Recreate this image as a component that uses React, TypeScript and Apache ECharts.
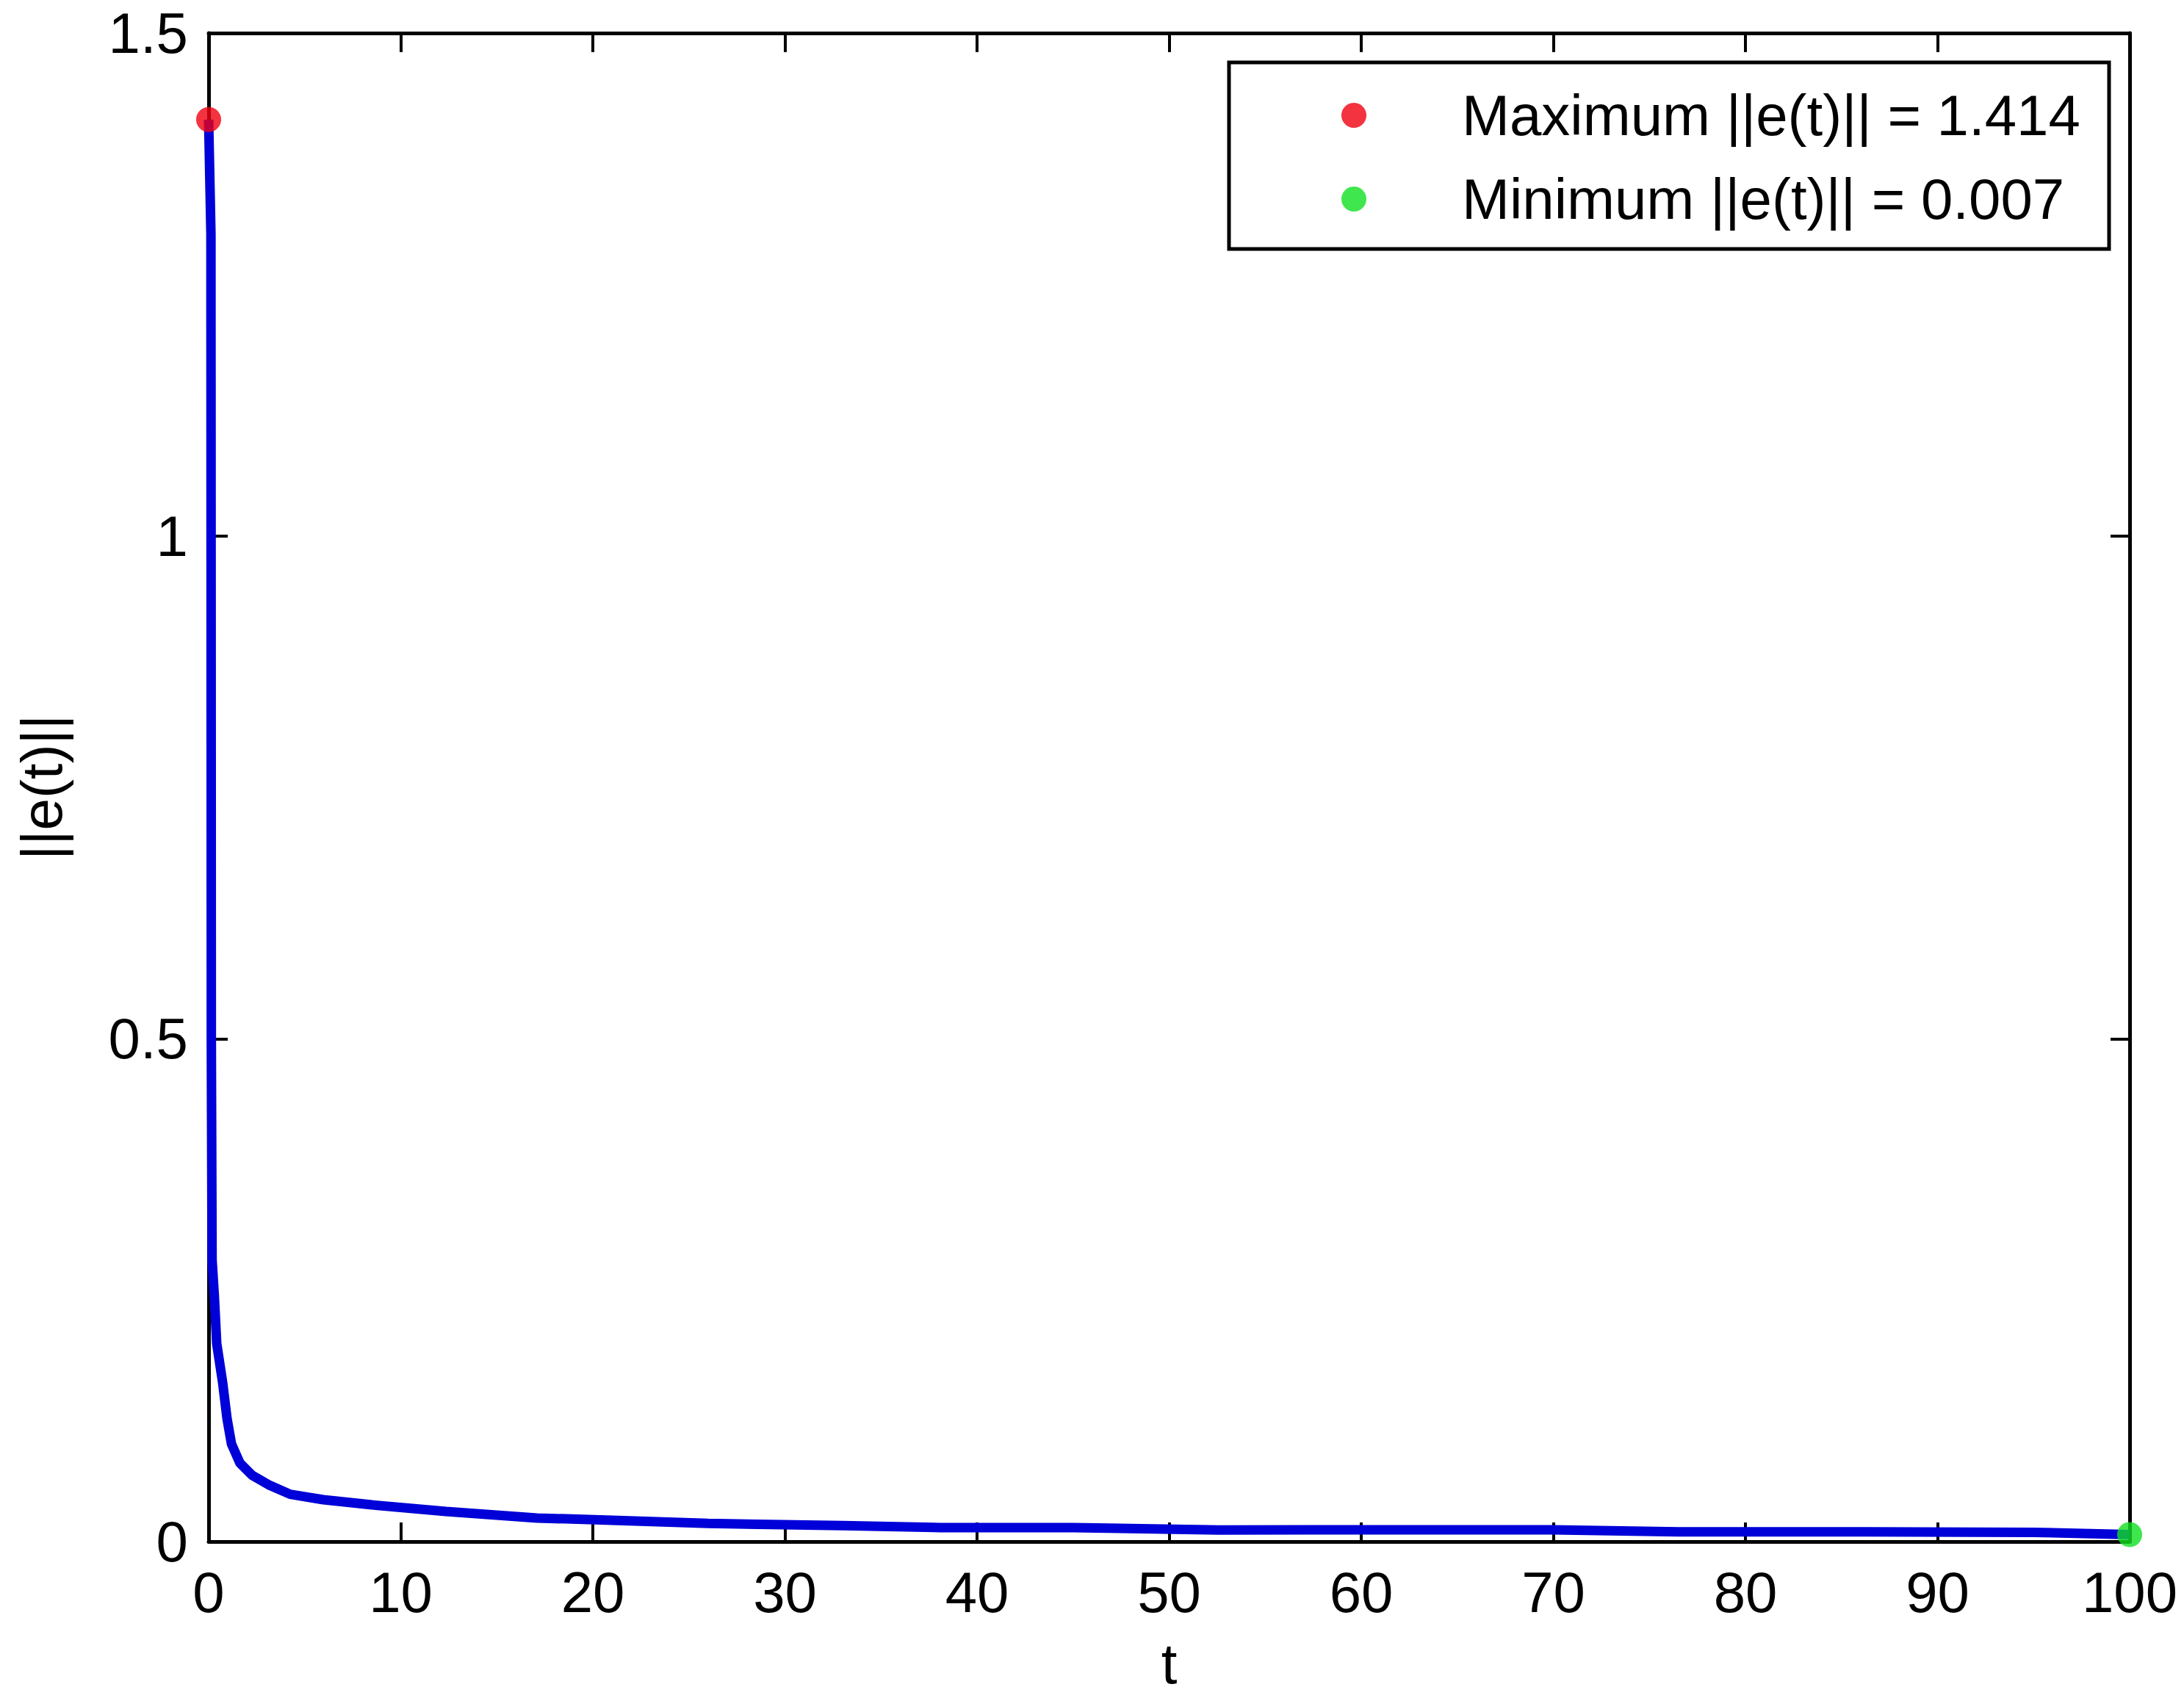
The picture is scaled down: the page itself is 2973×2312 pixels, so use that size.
import React, { useEffect, useRef } from "react";
import * as echarts from "echarts";

// time samples and error norm values
const tValues = [0, 0.12, 0.14, 0.18, 0.3, 0.42, 0.73, 0.96, 1.19, 1.63, 2.26, 3.17, 4.25, 5.97, 8.5, 12.35, 17.1, 21, 26, 33, 38.1, 45, 52.6, 60, 70, 76.5, 85, 95, 100];
const eValues = [1.414, 1.3, 0.5, 0.28, 0.243, 0.197, 0.158, 0.122, 0.097, 0.078, 0.066, 0.056, 0.047, 0.0416, 0.0365, 0.030, 0.0234, 0.0212, 0.018, 0.0158, 0.0139, 0.0139, 0.0115, 0.0117, 0.0117, 0.0097, 0.0097, 0.0092, 0.007];

const maxLabel = "Maximum ||e(t)|| = 1.414";
const minLabel = "Minimum ||e(t)|| = 0.007";
const maxPoint = [0, 1.414];
const minPoint = [100, 0.007];

const xAxisTitle = "t";
const yAxisTitle = "||e(t)||";

const FONT = "'Liberation Sans', Arial, Helvetica, sans-serif";
const FS = 78;

export default function App() {
  const ref = useRef<HTMLDivElement>(null);
  useEffect(() => {
    if (!ref.current) return;
    const chart = echarts.init(ref.current, undefined, { renderer: "svg" });
    const lineData = tValues.map((t, i) => [t, eValues[i]]);
    const axisLine = { show: true, onZero: false, lineStyle: { color: "#000", width: 5 } };
    const tick = { show: true, inside: true, length: 26, lineStyle: { color: "#000", width: 4 } };
    chart.setOption({
      animation: false,
      backgroundColor: "#fff",
      textStyle: { fontFamily: FONT },
      grid: { left: 284, right: 74, top: 45, bottom: 213, containLabel: false },
      xAxis: [
        {
          type: "value",
          min: 0,
          max: 100,
          interval: 10,
          position: "bottom",
          axisLine,
          axisTick: tick,
          splitLine: { show: false },
          axisLabel: { color: "#000", fontSize: FS, fontFamily: FONT, margin: 30 },
          name: xAxisTitle,
          nameLocation: "middle",
          nameGap: 127,
          nameTextStyle: { color: "#000", fontSize: FS, fontFamily: FONT },
        },
        {
          type: "value",
          min: 0,
          max: 100,
          interval: 10,
          position: "top",
          axisLine,
          axisTick: tick,
          splitLine: { show: false },
          axisLabel: { show: false },
        },
      ],
      yAxis: [
        {
          type: "value",
          min: 0,
          max: 1.5,
          interval: 0.5,
          position: "left",
          axisLine,
          axisTick: tick,
          splitLine: { show: false },
          axisLabel: { color: "#000", fontSize: FS, fontFamily: FONT, margin: 28 },
          name: yAxisTitle,
          nameLocation: "middle",
          nameGap: 188,
          nameTextStyle: { color: "#000", fontSize: FS, fontFamily: FONT },
        },
        {
          type: "value",
          min: 0,
          max: 1.5,
          interval: 0.5,
          position: "right",
          axisLine,
          axisTick: tick,
          splitLine: { show: false },
          axisLabel: { show: false },
        },
      ],
      legend: {
        data: [maxLabel, minLabel],
        orient: "vertical",
        left: 1826,
        top: 118,
        padding: 0,
        itemWidth: 284,
        itemHeight: 34,
        itemGap: 36,
        icon: "circle",
        selectedMode: false,
        textStyle: { color: "#000", fontSize: FS, fontFamily: FONT, lineHeight: 78, padding: 0 },
        z: 10,
      },
      graphic: [
        {
          type: "rect",
          shape: { x: 1673, y: 85, width: 1198, height: 254 },
          style: { fill: "#fff", stroke: "#000", lineWidth: 5 },
          z: 5,
        },
      ],
      series: [
        {
          type: "line",
          name: "e",
          data: lineData,
          showSymbol: false,
          symbol: "none",
          lineStyle: { color: "#0000d8", width: 13 },
          itemStyle: { color: "#0000d8" },
          z: 2,
        },
        {
          type: "scatter",
          name: maxLabel,
          data: [maxPoint],
          symbol: "circle",
          symbolSize: 34,
          clip: false,
          itemStyle: { color: "#f00010" },
          z: 4,
        },
        {
          type: "scatter",
          name: minLabel,
          data: [minPoint],
          symbol: "circle",
          symbolSize: 34,
          clip: false,
          itemStyle: { color: "#10e020" },
          z: 4,
        },
      ],
    });
    return () => chart.dispose();
  }, []);
  return (
    <div
      ref={ref}
      style={{ position: "absolute", left: 0, top: 0, width: 2973, height: 2312 }}
    />
  );
}
